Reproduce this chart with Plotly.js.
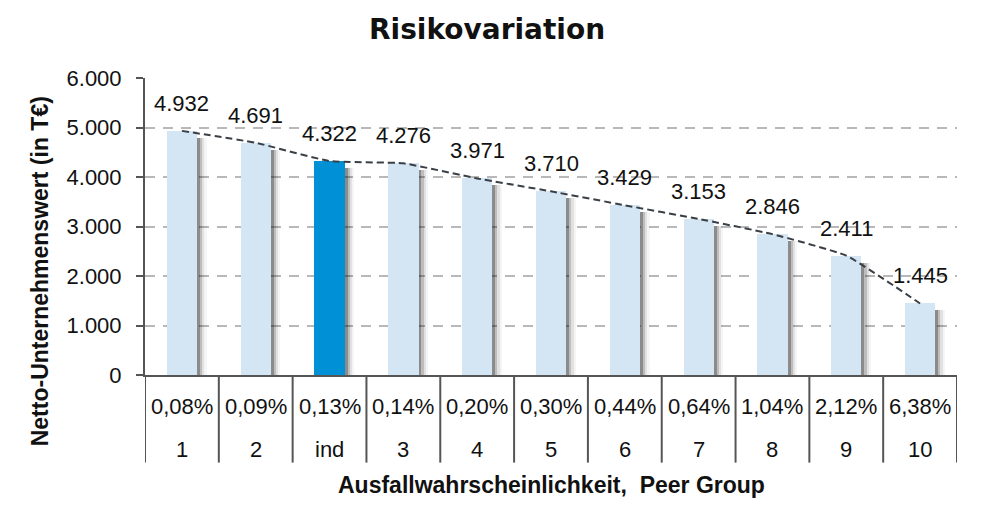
<!DOCTYPE html>
<html>
<head>
<meta charset="utf-8">
<script src="https://cdn.plot.ly/plotly-3.0.1.min.js"></script>
<style>html,body{margin:0;padding:0;background:#fff;}#chart{width:986px;height:522px;}</style>
</head>
<body>
<div id="chart"></div>
<script>
// ---- data ----
const peerGroup = ["1", "2", "ind", "3", "4", "5", "6", "7", "8", "9", "10"];
const pd = ["0,08%", "0,09%", "0,13%", "0,14%", "0,20%", "0,30%", "0,44%", "0,64%", "1,04%", "2,12%", "6,38%"];
const values = [4932, 4691, 4322, 4276, 3971, 3710, 3429, 3153, 2846, 2411, 1445];
const highlight = "ind";
const yTicks = [0, 1000, 2000, 3000, 4000, 5000, 6000];
const titleText = "Risikovariation";
const xTitle = "Ausfallwahrscheinlichkeit,  Peer Group";
const yTitle = "Netto-Unternehmenswert (in T€)";

// ---- styling ----
const LIGHT = "#d4e5f4";
const DARK = "#0090d6";
const numFont = "Liberation Sans, Arial, sans-serif";
const boldFont = "'Liberation Sans Narrow', 'Arial Narrow', 'Liberation Sans', sans-serif";

const idx = values.map((v, i) => i);
const colors = peerGroup.map(p => p === highlight ? DARK : LIGHT);
const fmt = v => v.toLocaleString("de-DE");

const barW = 0.41;
const traces = [];
// soft shadows to the right of each bar
[[0.04, "rgba(0,0,0,0.26)"], [0.07, "rgba(0,0,0,0.16)"], [0.10, "rgba(0,0,0,0.08)"], [0.13, "rgba(0,0,0,0.04)"]].forEach(([w, c]) => {
  traces.push({
    type: "bar", x: idx, y: values.map(v => v - 140),
    width: w, offset: barW / 2,
    marker: {color: c, line: {width: 0}},
    hoverinfo: "skip", showlegend: false
  });
});
traces.push({
  type: "bar", x: idx, y: values,
  width: barW,
  marker: {color: colors, line: {width: 0}},
  showlegend: false
});
traces.push({
  type: "scatter", mode: "lines", x: idx, y: values,
  line: {color: "#3a3f45", width: 2, dash: "7px,4px", shape: "spline", smoothing: 0.4},
  showlegend: false
});

const txtFont = {family: numFont, size: 22, color: "#111"};
const annotations = [];
values.forEach((v, i) => {
  annotations.push({x: i, y: v, xref: "x", yref: "y", text: fmt(v), showarrow: false,
    yanchor: "bottom", yshift: 13, font: txtFont});
  annotations.push({x: i, y: -0.105, xref: "x", yref: "paper", text: pd[i], showarrow: false,
    yanchor: "middle", font: txtFont});
  annotations.push({x: i, y: -0.25, xref: "x", yref: "paper", text: peerGroup[i], showarrow: false,
    yanchor: "middle", font: txtFont});
});
annotations.push({x: 0.5, y: -0.37, xref: "paper", yref: "paper", text: "<b>" + xTitle + "</b>",
  showarrow: false, xanchor: "center", yanchor: "middle", font: {family: boldFont, size: 23, color: "#111"}});
annotations.push({x: -0.129, y: 0.35, xref: "paper", yref: "paper", text: "<b>" + yTitle + "</b>",
  textangle: -90, showarrow: false, xanchor: "center", yanchor: "middle", font: {family: boldFont, size: 23, color: "#111"}});

const shapes = [];
for (let k = 0; k <= values.length; k++) {
  shapes.push({type: "line", xref: "x", yref: "paper", x0: k - 0.5, x1: k - 0.5, y0: 0, y1: -0.295,
    line: {color: "#555", width: 2}});
}

const layout = {
  width: 986, height: 522,
  margin: {l: 145, r: 29, t: 78, b: 147},
  paper_bgcolor: "#fff", plot_bgcolor: "#fff",
  separators: ",.",
  barmode: "overlay",
  bargap: 0,
  title: {text: "<b>" + titleText + "</b>", x: 0.494, xanchor: "center", y: 0.945, yanchor: "middle",
    font: {family: "DejaVu Sans, Verdana, sans-serif", size: 28, color: "#111"}},
  xaxis: {
    range: [-0.5, values.length - 0.5],
    showticklabels: false, ticks: "", showgrid: false, zeroline: false,
    showline: true, linecolor: "#555", linewidth: 2
  },
  yaxis: {
    range: [0, 6000], tickvals: yTicks, tickformat: ",d",
    ticks: "outside", ticklen: 7, tickwidth: 2, tickcolor: "#555",
    ticklabelstandoff: 10,
    showline: true, linecolor: "#555", linewidth: 2,
    showgrid: true, gridcolor: "#b8b8b8", gridwidth: 2, griddash: "10px,8px",
    zeroline: false,
    tickfont: txtFont
  },
  annotations: annotations,
  shapes: shapes
};

Plotly.newPlot("chart", traces, layout, {displayModeBar: false, staticPlot: true});
</script>
</body>
</html>
